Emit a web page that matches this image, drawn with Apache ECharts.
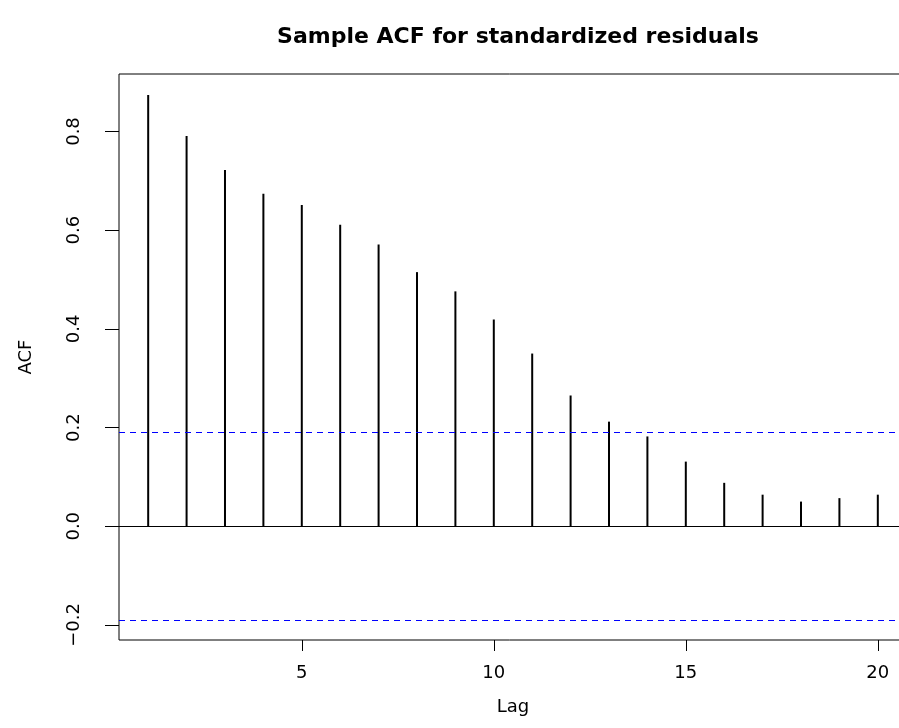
<!DOCTYPE html>
<html>
<head>
<meta charset="utf-8">
<title>Sample ACF for standardized residuals</title>
<script src="https://cdn.jsdelivr.net/npm/echarts@6/dist/echarts.min.js"></script>
<style>
  html, body { margin: 0; padding: 0; background: #fff; }
  #acfChart { width: 899px; height: 728px; }
</style>
</head>
<body>
<div id="acfChart"></div>
<script>
// 滞后阶数 1..20
var lags = [1, 2, 3, 4, 5, 6, 7, 8, 9, 10, 11, 12, 13, 14, 15, 16, 17, 18, 19, 20];
// 样本自相关系数
var acfValues = [0.874, 0.791, 0.722, 0.674, 0.651, 0.611, 0.571, 0.515, 0.476, 0.419,
                 0.350, 0.265, 0.212, 0.182, 0.131, 0.088, 0.064, 0.050, 0.057, 0.064];
// 置信界限 ±0.188
var confLimit = 0.188;
// 刻度
var xTicks = [5, 10, 15, 20];
var yTicks = [-0.2, 0.0, 0.2, 0.4, 0.6, 0.8];

var stemData = lags.map(function (lag, i) { return [lag, acfValues[i]]; });

var font = 'DejaVu Sans';

var option = {
  backgroundColor: '#fff',
  animation: false,
  title: {
    text: 'Sample ACF for standardized residuals',
    left: 513,
    top: 21,
    textAlign: 'center',
    textStyle: { fontFamily: font, fontWeight: 'bold', fontSize: 22, color: '#000' }
  },
  // 画布内边距：右边框在画布外，与原图一样被裁掉
  grid: {
    left: 119,
    top: 74,
    width: 788,
    height: 566,
    outerBoundsMode: 'none',
    containLabel: false,
    show: true,
    borderColor: '#000',
    borderWidth: 1,
    backgroundColor: 'transparent'
  },
  xAxis: {
    type: 'value',
    min: 0.24,
    max: 20.76,
    name: 'Lag',
    nameLocation: 'middle',
    nameGap: 58,
    nameTextStyle: { fontFamily: font, fontSize: 18, color: '#000' },
    axisLine: { show: false, onZero: false },
    splitLine: { show: false },
    axisTick: {
      show: true,
      length: 11,
      customValues: xTicks,
      lineStyle: { color: '#000', width: 1 }
    },
    axisLabel: {
      customValues: xTicks,
      margin: 24,
      fontFamily: font,
      fontSize: 18,
      color: '#000'
    }
  },
  yAxis: {
    type: 'value',
    min: -0.2305,
    max: 0.9165,
    name: 'ACF',
    nameLocation: 'middle',
    nameGap: 84,
    nameRotate: 90,
    nameTextStyle: { fontFamily: font, fontSize: 18, color: '#000' },
    axisLine: { show: false, onZero: false },
    splitLine: { show: false },
    axisTick: {
      show: true,
      length: 14,
      customValues: yTicks,
      lineStyle: { color: '#000', width: 1 }
    },
    axisLabel: {
      customValues: yTicks,
      rotate: 90,
      margin: 36,
      fontFamily: font,
      fontSize: 18,
      color: '#000',
      formatter: function (v) {
        var s = Math.abs(v).toFixed(1);
        return v < -1e-9 ? '\u2212' + s : s;
      }
    }
  },
  series: [
    {
      type: 'bar',
      data: stemData,
      barWidth: 2,
      itemStyle: { color: '#000' },
      silent: true,
      markLine: {
        silent: true,
        symbol: ['none', 'none'],
        label: { show: false },
        data: [
          { yAxis: 0, lineStyle: { color: '#000', type: 'solid', width: 1.2 } },
          { yAxis: confLimit, lineStyle: { color: '#0000ff', type: [6, 5], width: 1.2 } },
          { yAxis: -confLimit, lineStyle: { color: '#0000ff', type: [6, 5], width: 1.2 } }
        ]
      }
    }
  ]
};

var acfChart = echarts.init(document.getElementById('acfChart'));
acfChart.setOption(option);
</script>
</body>
</html>
